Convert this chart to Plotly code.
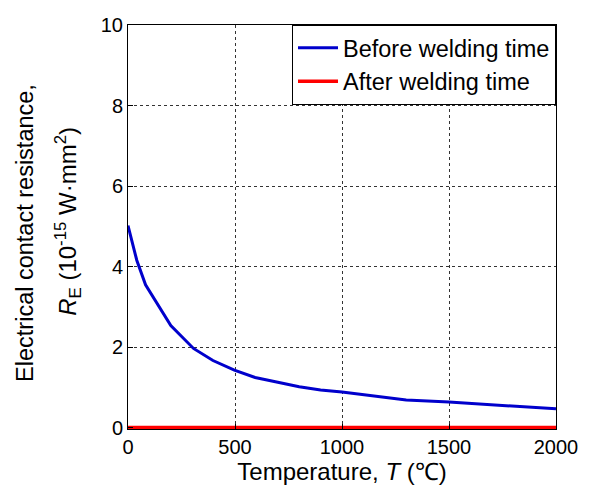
import plotly.graph_objects as go

temps = [0, 41, 82, 200, 306, 397, 497, 594, 700, 800, 900, 1000, 1300, 1500, 2000]
re_before = [5.02, 4.16, 3.55, 2.54, 1.97, 1.67, 1.43, 1.25, 1.13, 1.02, 0.94, 0.89, 0.69, 0.64, 0.47]
re_after = [0.01, 0.01, 0.01, 0.01, 0.01, 0.01, 0.01, 0.01, 0.01, 0.01, 0.01, 0.01, 0.01, 0.01, 0.01]

x_ticks = [0, 500, 1000, 1500, 2000]
y_ticks = [0, 2, 4, 6, 8, 10]

FONT = "Liberation Sans, Arial, sans-serif"

fig = go.Figure()
fig.add_trace(go.Scatter(x=temps, y=re_before, mode="lines", name="Before welding time",
                         line=dict(color="#0000cc", width=3)))
fig.add_trace(go.Scatter(x=temps, y=re_after, mode="lines", name="After welding time",
                         line=dict(color="#ff0000", width=3.5)))

axis_common = dict(showline=True, linecolor="black", linewidth=1, mirror=True,
                   showgrid=True, gridcolor="#333333", griddash="dot", gridwidth=1,
                   zeroline=False, ticks="inside", ticklen=5, tickcolor="black",
                   tickfont=dict(family=FONT, size=20, color="black"))

fig.update_xaxes(range=[0, 2000], tickvals=x_ticks, **axis_common,
                 title=dict(text="Temperature, <i>T</i> (\u2103)",
                            font=dict(family=FONT, size=24, color="black"), standoff=3))
fig.update_yaxes(range=[-0.03, 10], tickvals=y_ticks, **axis_common)

fig.add_annotation(text="Electrical contact resistance,", textangle=-90,
                   xref="paper", yref="paper", x=-0.241, y=0.485, xanchor="center", yanchor="middle",
                   showarrow=False, font=dict(family=FONT, size=23.5, color="black"))
fig.add_annotation(text="<i>R</i><sub>E</sub> (10<sup>-15</sup> W\u00b7mm<sup>2</sup>)", textangle=-90,
                   xref="paper", yref="paper", x=-0.14, y=0.513, xanchor="center", yanchor="middle",
                   showarrow=False, font=dict(family=FONT, size=24, color="black"))

fig.update_layout(
    width=590, height=490,
    margin=dict(l=128, r=24, t=25, b=59),
    paper_bgcolor="white", plot_bgcolor="white",
    showlegend=True,
    legend=dict(x=1, y=1, xanchor="right", yanchor="top",
                bgcolor="white", bordercolor="black", borderwidth=1,
                font=dict(family=FONT, size=23.5, color="black"),
                itemwidth=40, tracegroupgap=0),
    font=dict(family=FONT),
)

fig.write_html("out.html")
